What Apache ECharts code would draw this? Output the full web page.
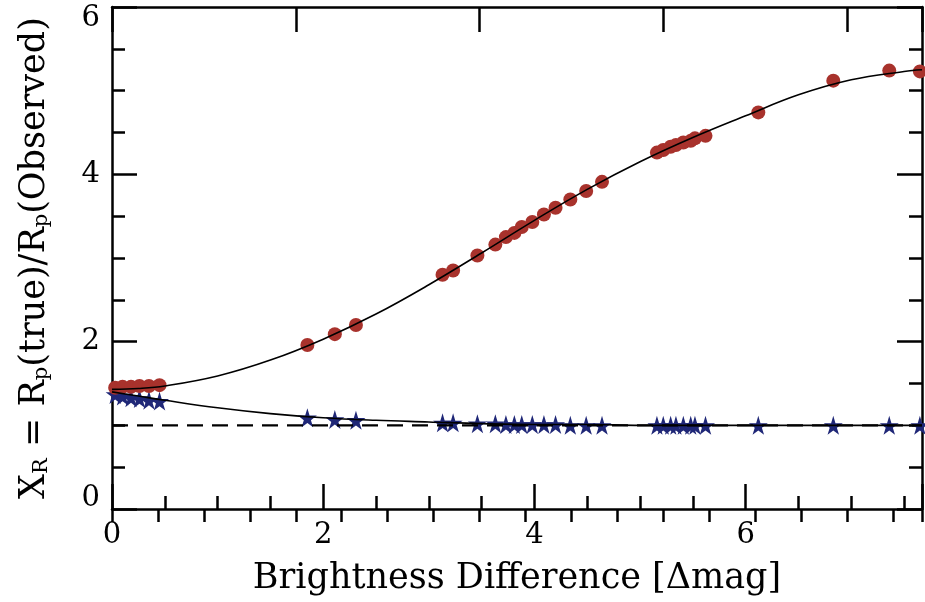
<!DOCTYPE html>
<html>
<head>
<meta charset="utf-8">
<script src="https://cdn.jsdelivr.net/npm/echarts@6/dist/echarts.min.js"></script>
<style>
  html, body { margin: 0; padding: 0; background: #fff; }
  #chart { width: 925px; height: 602px; }
</style>
</head>
<body>
<div id="chart"></div>
<script>
// brightness difference of each system (shared by both point sets)
var dmag = [0.03, 0.10, 0.18, 0.26, 0.35, 0.45,
  1.85, 2.11, 2.31,
  3.13, 3.23, 3.46, 3.63, 3.73, 3.81, 3.88, 3.98, 4.09, 4.20, 4.34, 4.49, 4.64,
  5.16, 5.22, 5.29, 5.34, 5.41, 5.48, 5.52, 5.62,
  6.12, 6.83, 7.36, 7.65];
// red circles
var xrCircle = [1.45, 1.46, 1.46, 1.47, 1.47, 1.48,
  1.96, 2.09, 2.20,
  2.80, 2.85, 3.03, 3.16, 3.25, 3.30, 3.37, 3.43, 3.52, 3.60, 3.70, 3.80, 3.91,
  4.26, 4.29, 4.33, 4.35, 4.38, 4.40, 4.43, 4.46,
  4.74, 5.12, 5.24, 5.23];
// blue stars
var xrStar = [1.37, 1.35, 1.33, 1.32, 1.30, 1.29,
  1.09, 1.07, 1.06,
  1.03, 1.03, 1.02, 1.02, 1.01, 1.01, 1.01, 1.01, 1.01, 1.01, 1.00, 1.00, 1.00,
  1.00, 1.00, 1.00, 1.00, 1.00, 1.00, 1.00, 1.00,
  1.00, 1.00, 1.00, 1.00];

// fitted curves
var fitX = [0, 0.25, 0.5, 1, 1.5, 2, 2.5, 3, 3.5, 4, 4.5, 5, 5.5, 6, 6.5, 7, 7.5, 7.67];
var fitCircle = [1.43, 1.44, 1.47, 1.59, 1.78, 2.03, 2.33, 2.68, 3.06, 3.45, 3.82, 4.15, 4.44, 4.70, 4.95, 5.13, 5.23, 5.25];
var fitStar = [1.40, 1.35, 1.30, 1.21, 1.14, 1.09, 1.06, 1.04, 1.02, 1.01, 1.01, 1.00, 1.00, 1.00, 1.00, 1.00, 1.00, 1.00];

// dashed line X_R = 1
var refX = [0, 7.67];
var refY = [1, 1];

var xMax = 7.67;
var topMax = 17.63;   // top axis runs on its own tick spacing

var FONT = 'DejaVu Serif';
var STAR = 'path://M50,0 L61,35 L98,35 L68,57 L79,91 L50,70 L21,91 L32,57 L2,35 L39,35 Z';

function pairs(xs, ys) {
  var out = [];
  for (var i = 0; i < xs.length; i++) out.push([xs[i], ys[i]]);
  return out;
}

var lineBlack = { color: '#000', width: 2.5 };

function frameAxis(extra) {
  var a = {
    type: 'value',
    splitLine: { show: false },
    axisLine: { show: false },
    axisLabel: { show: false },
    axisTick: { show: true, inside: true, length: 13, lineStyle: lineBlack }
  };
  for (var k in extra) a[k] = extra[k];
  return a;
}

var option = {
  backgroundColor: '#fff',
  animation: false,
  grid: { left: 112, right: 1, top: 7, bottom: 93 },
  xAxis: [
    {
      type: 'value', min: 0, max: xMax, interval: 2, position: 'bottom',
      name: 'Brightness Difference [Δmag]',
      nameLocation: 'middle', nameGap: 52,
      nameTextStyle: { fontFamily: FONT, fontSize: 35, color: '#000' },
      splitLine: { show: false },
      axisLine: { show: true, onZero: false, lineStyle: lineBlack },
      axisTick: { inside: true, length: 25, lineStyle: lineBlack },
      axisLabel: {
        margin: 12, fontFamily: FONT, fontSize: 29, color: '#000',
        formatter: function (v) { return v % 2 === 0 ? String(v) : ''; }
      }
    },
    frameAxis({ min: 0, max: xMax, interval: 0.5, position: 'bottom' }),
    frameAxis({ min: 0, max: topMax, interval: 4, position: 'top',
      axisLine: { show: true, onZero: false, lineStyle: lineBlack },
      axisTick: { show: true, inside: true, length: 25, lineStyle: lineBlack } }),
    frameAxis({ min: 0, max: topMax, interval: 1, position: 'top' })
  ],
  yAxis: [
    {
      type: 'value', min: 0, max: 6, interval: 2, position: 'left',
      name: '{n|X}{s|R}{n| = R}{s|p}{n|(true)/R}{s|p}{n|(Observed)}',
      nameLocation: 'middle', nameGap: 60, nameRotate: 90,
      nameTextStyle: {
        color: '#000',
        rich: {
          n: { fontFamily: FONT, fontSize: 35, color: '#000' },
          s: { fontFamily: FONT, fontSize: 21, color: '#000', padding: [14, 0, 0, 0] }
        }
      },
      splitLine: { show: false },
      axisLine: { show: true, onZero: false, lineStyle: lineBlack },
      axisTick: { inside: true, length: 25, lineStyle: lineBlack },
      minorTick: { show: true, splitNumber: 4, length: 13, lineStyle: lineBlack },
      axisLabel: {
        margin: 12, color: '#000',
        formatter: function (v) {
          if (v === 6) return '{t|6}';
          if (v === 0) return '{b|0}';
          return '{m|' + v + '}';
        },
        rich: {
          t: { fontFamily: FONT, fontSize: 29, color: '#000', padding: [22, 0, 0, 0] },
          b: { fontFamily: FONT, fontSize: 29, color: '#000', padding: [0, 0, 22, 0] },
          m: { fontFamily: FONT, fontSize: 29, color: '#000' }
        }
      }
    },
    frameAxis({ min: 0, max: 6, interval: 2, position: 'right',
      axisLine: { show: true, onZero: false, lineStyle: lineBlack },
      axisTick: { show: true, inside: true, length: 25, lineStyle: lineBlack },
      minorTick: { show: true, splitNumber: 4, length: 13, lineStyle: lineBlack } })
  ],
  series: [
    {
      type: 'scatter', data: pairs(dmag, xrStar), z: 2,
      symbol: STAR, symbolSize: 19,
      itemStyle: { color: '#1f2777', opacity: 1 }
    },
    {
      type: 'scatter', data: pairs(dmag, xrCircle), z: 2,
      symbol: 'circle', symbolSize: 14,
      itemStyle: { color: '#a8322c', opacity: 1 }
    },
    {
      type: 'line', data: pairs(refX, refY), z: 3,
      symbol: 'none',
      lineStyle: { color: '#000', width: 2.2, type: [16, 9] }
    },
    {
      type: 'line', data: pairs(fitX, fitCircle), z: 4,
      symbol: 'none', smooth: 0.4,
      lineStyle: { color: '#000', width: 1.6 }
    },
    {
      type: 'line', data: pairs(fitX, fitStar), z: 4,
      symbol: 'none', smooth: 0.4,
      lineStyle: { color: '#000', width: 1.6 }
    }
  ]
};

var chart = echarts.init(document.getElementById('chart'));
chart.setOption(option);
</script>
</body>
</html>
